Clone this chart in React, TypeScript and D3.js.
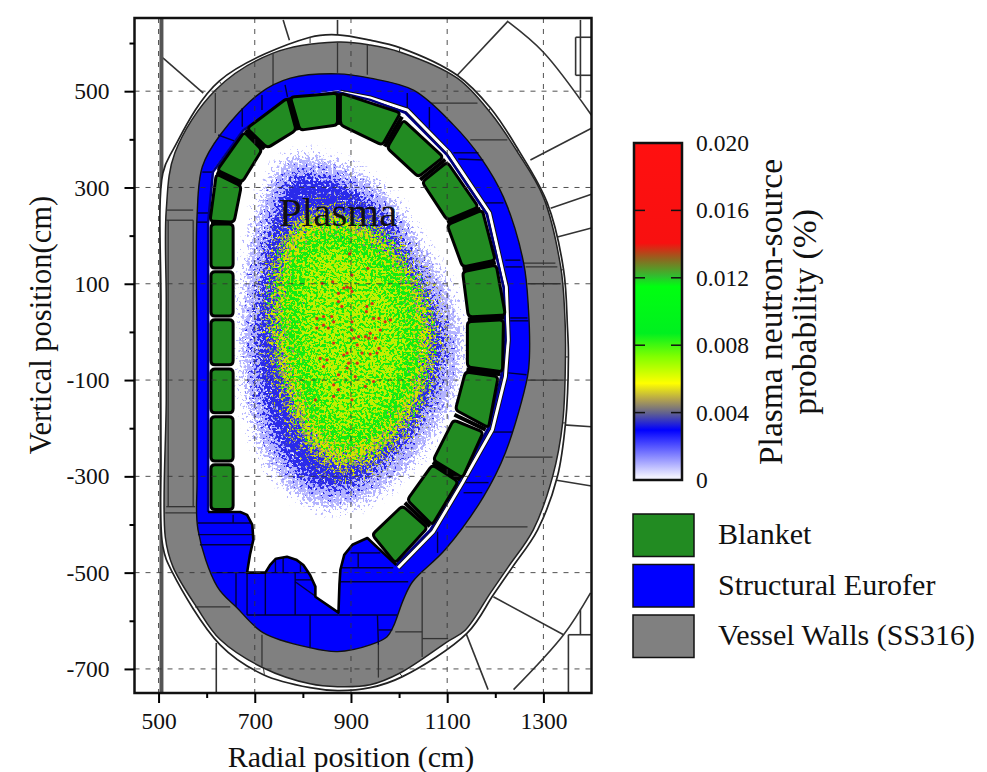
import React, { useEffect, useRef } from 'react';
import * as d3 from 'd3';

type Pt = [number, number];
type Seg = [number, number, number, number];

// everything below is in chart units: [radial cm, vertical cm]
const xMajor = [500, 700, 900, 1100, 1300];
const xMinor = [600, 800, 1000, 1200];
const yMajor = [500, 300, 100, -100, -300, -500, -700];
const yMinor = [600, 400, 200, 0, -200, -400, -600];
const cbTicks = [0, 0.004, 0.008, 0.012, 0.016, 0.02];
const cbLabels = ['0', '0.004', '0.008', '0.012', '0.016', '0.020'];
const cbStopValues = [0.02, 0.01406, 0.01307, 0.01208, 0.01149, 0.00871, 0.00733, 0.00574, 0.00475, 0.00396, 0.00297, 0.0002];
const cbStopColors = ['#ff1010', '#f81010', '#8a6a20', '#2fc02f', '#00ff10', '#00f020', '#80ff00', '#ffff00', '#b0a050', '#606090', '#0000ff', '#f0f0ff'];
const legendLabels = ['Blanket', 'Structural Eurofer', 'Vessel Walls (SS316)'];
const legendColors = ['#228b22', '#0000ff', '#808080'];

const shellOuter: Pt[] = [[509, 330], [530, 378], [626, 521], [815, 612], [872, 617], [940, 606], [1003, 590], [1121, 533], [1190, 465], [1248, 378], [1308, 268], [1342, 129], [1350, 10], [1352, -52], [1346, -189], [1329, -301], [1288, -411], [1236, -488], [1196, -546], [1142, -625], [1007, -716], [940, -739], [872, -745], [815, -739], [718, -712], [628, -650], [528, -498], [509, -446], [505, -250], [505, 50]];
const vesselOuter: Pt[] = [[516, 253], [534, 372], [618, 502], [738, 579], [872, 602], [940, 596], [1003, 581], [1121, 527], [1190, 455], [1246, 374], [1300, 280], [1336, 135], [1344, 46], [1346, -37], [1340, -189], [1319, -301], [1279, -411], [1227, -488], [1190, -542], [1138, -619], [1100, -644], [1003, -708], [940, -733], [872, -737], [815, -731], [718, -698], [628, -639], [580, -573], [530, -488], [514, -426], [516, -141], [516, 66]];
const blueOuter: Pt[] = [[580, 239], [591, 343], [628, 409], [711, 496], [774, 527], [872, 536], [940, 527], [1030, 502], [1113, 430], [1169, 363], [1217, 280], [1259, 143], [1269, 46], [1271, -52], [1267, -93], [1221, -251], [1175, -343], [1096, -452], [1028, -519], [1009, -556], [988, -612], [975, -633], [940, -650], [872, -664], [815, -656], [718, -625], [663, -573], [622, -529], [582, -411], [580, -307], [580, -37]];
const cavity: Pt[] = [[872, 502], [768, 486], [676, 421], [613, 336], [603, 226], [603, -374], [670, -374], [684, -380], [695, -401], [697, -432], [690, -463], [684, -500], [722, -500], [732, -484], [744, -471], [767, -467], [786, -473], [801, -484], [815, -505], [826, -529], [826, -550], [874, -583], [876, -525], [878, -494], [886, -463], [903, -442], [934, -428], [994, -484], [1065, -411], [1125, -309], [1186, -199], [1212, -93], [1221, -17], [1217, 93], [1182, 245], [1100, 367], [1013, 455], [940, 482]];
const wallEdge: Pt[] = [[994, -484], [1065, -411], [1125, -309], [1186, -199], [1212, -93], [1221, -17], [1217, 93], [1182, 245], [1100, 367], [1013, 455], [940, 482], [872, 498], [768, 484], [676, 419], [613, 332], [603, 226], [603, -374]];
const divertorEdge: Pt[] = [[603, -374], [670, -374], [684, -380], [695, -401], [697, -432], [690, -463], [684, -500], [722, -500], [732, -484], [744, -471], [767, -467], [786, -473], [801, -484], [815, -505], [826, -529], [826, -550], [874, -583], [876, -525], [878, -494], [886, -463], [903, -442], [934, -428], [994, -484]];
const stripLine: Pt[] = [[998, -490], [1071, -415], [1132, -313], [1194, -203], [1221, -93], [1227, -17], [1223, 93], [1188, 247], [1104, 372], [1017, 461], [940, 486], [878, 498]];

const blanketModules: Pt[][] = [
  [[609, 224], [655, 224], [655, 133], [609, 133]],
  [[609, 125], [655, 125], [655, 33], [609, 33]],
  [[609, 25], [655, 25], [655, -68], [609, -68]],
  [[609, -77], [655, -77], [655, -168], [609, -168]],
  [[609, -176], [655, -176], [655, -268], [609, -268]],
  [[609, -276], [655, -276], [655, -369], [609, -369]],
  [[620, 328], [672, 303], [657, 228], [607, 230]],
  [[678, 415], [715, 378], [674, 311], [622, 336]],
  [[768, 486], [786, 419], [726, 382], [684, 423]],
  [[774, 488], [872, 496], [872, 430], [794, 419]],
  [[878, 496], [1003, 455], [965, 388], [878, 430]],
  [[1009, 440], [1092, 363], [1040, 322], [975, 382]],
  [[1100, 353], [1165, 259], [1100, 232], [1048, 311]],
  [[1173, 253], [1200, 149], [1132, 135], [1100, 222]],
  [[1202, 139], [1221, 35], [1144, 31], [1132, 125]],
  [[1217, 25], [1215, -83], [1142, -73], [1142, 21]],
  [[1206, -93], [1186, -199], [1117, -162], [1138, -83]],
  [[1175, -208], [1132, -303], [1071, -266], [1113, -183]],
  [[1123, -311], [1069, -401], [1017, -349], [1069, -276]],
  [[1059, -407], [992, -480], [944, -421], [1007, -361]],
];
const moduleJoints: Seg[] = [
  [609, 226, 650, 226], [621, 332, 673, 307], [681, 419, 720, 380], [771, 487, 790, 419],
  [875, 496, 875, 430], [1006, 447, 970, 385], [1096, 358, 1044, 316], [1169, 256, 1100, 227],
  [1201, 144, 1132, 130], [1219, 30, 1143, 26], [1210, -88, 1140, -78], [1180, -203, 1115, -172],
  [1127, -307, 1070, -271], [1064, -404, 1012, -355],
];

const vesselDividers: Seg[] = [
  [738, 579, 738, 513], [872, 602, 872, 538], [934, 596, 934, 534], [618, 496, 618, 413],
  [516, 253, 572, 253], [516, 232, 572, 232], [520, 232, 520, -363], [572, 232, 572, -363],
  [516, -363, 576, -363], [514, -376, 580, -376], [1065, 475, 1163, 475], [1148, 399, 1225, 399],
  [1259, 143, 1325, 143], [1263, 135, 1329, 135], [1267, 100, 1336, 100], [1267, -100, 1342, -100],
  [1221, -260, 1319, -260], [1138, -405, 1267, -405], [1048, -509, 1048, -675], [992, -623, 1048, -623],
  [1048, -637, 1102, -637], [957, -650, 957, -718], [576, -571, 649, -571], [715, -629, 715, -695],
];
const shellTicks: Seg[] = [
  [815, 612, 815, 600], [626, 521, 634, 510], [1002, 590, 1000, 580], [1190, 465, 1184, 455],
  [1248, 378, 1242, 372], [1308, 268, 1300, 264], [1342, 129, 1336, 129], [1352, -52, 1344, -52],
  [1346, -189, 1340, -189], [1236, -488, 1242, -490], [1007, -716, 1000, -708], [720, -712, 718, -698],
];
const structureLines: Seg[] = [
  [759, 648, 772, 606], [872, 648, 872, 617], [509, 569, 593, 496], [1227, 646, 1121, 533],
  [1377, 648, 1377, 486], [1367, 612, 1400, 612], [1367, 612, 1367, 533], [1367, 533, 1400, 533],
  [1273, 357, 1400, 423], [1315, 257, 1400, 286], [1329, 197, 1400, 216], [1342, -193, 1400, -197],
  [1321, -307, 1400, -320], [1196, -550, 1342, -629], [1138, -623, 1185, -743], [1377, -577, 1377, -629],
  [1352, -629, 1400, -629], [1352, -629, 1352, -750], [620, -646, 620, -750],
];
const arcTop: Pt[] = [[1227, 644], [1300, 581], [1400, 450]];
const arcBottom: Pt[] = [[1398, -542], [1342, -629], [1238, -743]];
const blueDividers: Seg[] = [
  [715, 492, 715, 461], [674, 465, 674, 426], [763, 513, 768, 488], [624, 409, 670, 392],
  [591, 332, 611, 332], [580, 247, 603, 247], [580, 228, 603, 228], [1017, 496, 1017, 461],
  [1063, 467, 1063, 423], [1113, 372, 1165, 372], [1123, 359, 1175, 357], [1180, 268, 1217, 268],
  [1221, 149, 1252, 149], [1221, 135, 1256, 135], [1231, 29, 1267, 29], [1231, 23, 1269, 23],
  [1227, -85, 1265, -89], [1194, -208, 1236, -208], [1138, -313, 1186, -313], [1134, -334, 1173, -334],
  [1080, -415, 1080, -459],
  [582, -397, 690, -397], [582, -421, 695, -421], [586, -442, 693, -442], [655, -380, 655, -397],
  [611, -500, 810, -500], [661, -500, 661, -571], [684, -500, 684, -588], [722, -500, 722, -588],
  [784, -500, 784, -588], [684, -588, 874, -588], [784, -519, 874, -583], [784, -515, 826, -515],
  [743, -473, 743, -500], [759, -469, 759, -500], [795, -480, 795, -500], [815, -588, 815, -656],
  [955, -588, 957, -650], [957, -619, 986, -619], [874, -490, 988, -490], [878, -519, 1019, -519],
  [874, -588, 996, -588], [915, -459, 915, -490], [899, -459, 961, -459],
];

// plasma density read as iso-contours, the grain itself comes from the svg filters
const plasmaFaint: Pt[] = [[794, 365], [857, 353], [930, 320], [992, 264], [1044, 181], [1096, 98], [1127, -6], [1117, -110], [1072, -207], [1007, -292], [930, -348], [867, -364], [795, -344], [729, -270], [690, -165], [674, -37], [678, 66], [690, 170], [718, 278], [750, 340]];
const plasmaBlue: Pt[] = [[799, 330], [857, 318], [919, 289], [978, 235], [1023, 158], [1065, 77], [1092, -6], [1082, -100], [1044, -187], [986, -262], [919, -314], [867, -330], [805, -309], [750, -241], [718, -152], [703, -37], [707, 66], [720, 170], [745, 264], [768, 316]];
const plasmaYellow: Pt[] = [[815, 245], [888, 240], [965, 195], [1028, 118], [1068, 4], [1055, -95], [1013, -193], [951, -255], [888, -284], [830, -255], [782, -170], [752, -72], [740, 25], [749, 135], [770, 205]];
const plasmaGreen: Pt[] = [[847, 210], [919, 192], [985, 140], [1028, 46], [1038, -37], [1008, -140], [958, -205], [888, -238], [832, -195], [800, -118], [772, -17], [768, 85], [785, 160]];
const plasmaHot: Pt[] = [[892, 93], [885, 91], [899, 91], [862, 104], [902, 118], [935, 132], [897, 162], [874, 80], [874, 63], [881, 53], [902, 21], [933, 53], [944, 59], [932, 42], [947, 28], [958, 28], [971, 21], [982, 25], [829, 28], [843, 32], [860, 32], [864, 21], [843, 14], [829, 8], [853, 8], [902, 4], [940, -3], [930, -10], [916, -10], [906, -13], [913, -27], [864, -23], [892, -44], [885, -48], [937, -13], [951, -13], [961, 4], [923, -44], [940, -46], [954, -44], [895, -65], [892, -75], [913, -65], [850, -58], [836, -55], [843, -72], [909, -93], [874, -89], [947, -103], [864, -110], [930, -113], [874, -120], [902, -141], [826, -141], [864, -134], [958, -34], [902, 84], [840, 101]];

const W = 987;
const H = 772;
const frame = { left: 134.5, right: 591.5, top: 18, bottom: 693 };
const serif = '"Liberation Serif", serif';

const x = d3.scaleLinear().domain([450, 1400]).range([frame.left, frame.right]);
const y = d3.scaleLinear().domain([652, -750]).range([frame.top, frame.bottom]);
const cb = d3.scaleLinear().domain([0, 0.02]).range([480, 143]);

const smooth = d3.line<Pt>().x(d => x(d[0])).y(d => y(d[1])).curve(d3.curveCatmullRomClosed.alpha(0.5));
const smoothOpen = d3.line<Pt>().x(d => x(d[0])).y(d => y(d[1])).curve(d3.curveCatmullRom.alpha(0.5));
const straight = d3.line<Pt>().x(d => x(d[0])).y(d => y(d[1])).curve(d3.curveLinear);

// polygon with softened corners, the blanket modules are not sharp
const roundedPath = (pts: Pt[], r: number) => {
  const p = pts.map(d => [x(d[0]), y(d[1])]);
  const n = p.length;
  const out: string[] = [];
  p.forEach((c, i) => {
    const a = p[(i + n - 1) % n];
    const b = p[(i + 1) % n];
    const la = Math.hypot(a[0] - c[0], a[1] - c[1]);
    const lb = Math.hypot(b[0] - c[0], b[1] - c[1]);
    const s = [c[0] + ((a[0] - c[0]) * r) / la, c[1] + ((a[1] - c[1]) * r) / la];
    const e = [c[0] + ((b[0] - c[0]) * r) / lb, c[1] + ((b[1] - c[1]) * r) / lb];
    out.push(`${i === 0 ? 'M' : 'L'}${s[0]},${s[1]}Q${c[0]},${c[1]} ${e[0]},${e[1]}`);
  });
  return out.join('') + 'Z';
};

const Segs = ({ data, stroke, width }: { data: Seg[]; stroke: string; width: number }) => (
  <g stroke={stroke} strokeWidth={width}>
    {data.map((s, i) => (
      <line key={i} x1={x(s[0])} y1={y(s[1])} x2={x(s[2])} y2={y(s[3])} />
    ))}
  </g>
);

// soft shape + noise, thresholded: density of grains falls off towards the edge
const Stipple = ({ id, color, sd, seed, bias = 0, freq = 0.38 }: { id: string; color: string; sd: number; seed: number; bias?: number; freq?: number }) => (
  <filter id={id} filterUnits="userSpaceOnUse" x={0} y={0} width={W} height={H} colorInterpolationFilters="sRGB">
    <feGaussianBlur in="SourceAlpha" stdDeviation={sd} result="shape" />
    <feComponentTransfer in="shape" result="limit">
      <feFuncA type="linear" slope={40} intercept={-1.2} />
    </feComponentTransfer>
    <feTurbulence type="fractalNoise" baseFrequency={freq} numOctaves={2} seed={seed} result="turb" />
    <feColorMatrix in="turb" type="matrix" values="0 0 0 0 0 0 0 0 0 0 0 0 0 0 0 2.2 0 0 0 -0.6" result="noise" />
    <feComposite in="shape" in2="noise" operator="arithmetic" k1={0} k2={8} k3={8} k4={-8 + bias * 8} result="raw" />
    <feComposite in="raw" in2="limit" operator="in" result="mask" />
    <feFlood floodColor={color} result="ink" />
    <feComposite in="ink" in2="mask" operator="in" result="dots" />
    <feGaussianBlur in="dots" stdDeviation={0.5} />
  </filter>
);

const App = () => {
  const xAxisRef = useRef<SVGGElement>(null);
  const yAxisRef = useRef<SVGGElement>(null);
  const xMinorRef = useRef<SVGGElement>(null);
  const yMinorRef = useRef<SVGGElement>(null);
  const cbAxisRef = useRef<SVGGElement>(null);

  useEffect(() => {
    const styleAxis = (g: any, w: number) => {
      g.select('.domain').remove();
      g.selectAll('line').attr('stroke', '#000').attr('stroke-width', w);
      g.selectAll('text').attr('font-family', serif).attr('font-size', 23.5).attr('fill', '#111');
    };
    d3.select(xAxisRef.current!)
      .call(d3.axisBottom(x).tickValues(xMajor).tickSize(10).tickPadding(9).tickFormat(d => String(d)) as any)
      .call(styleAxis as any, 2);
    d3.select(yAxisRef.current!)
      .call(d3.axisLeft(y).tickValues(yMajor).tickSize(10).tickPadding(15).tickFormat(d => String(d)) as any)
      .call(styleAxis as any, 2);
    d3.select(xMinorRef.current!)
      .call(d3.axisBottom(x).tickValues(xMinor).tickSize(5).tickFormat(() => '') as any)
      .call(styleAxis as any, 2);
    d3.select(yMinorRef.current!)
      .call(d3.axisLeft(y).tickValues(yMinor).tickSize(5).tickFormat(() => '') as any)
      .call(styleAxis as any, 2);
    d3.select(cbAxisRef.current!)
      .call(d3.axisRight(cb).tickValues(cbTicks).tickSize(0).tickPadding(14).tickFormat((_, i) => cbLabels[i]) as any)
      .call(styleAxis as any, 0);
  }, []);

  return (
    <svg width={W} height={H} style={{ position: 'absolute', left: 0, top: 0, background: '#fff' }}>
      <defs>
        <clipPath id="plot">
          <rect x={frame.left} y={frame.top} width={frame.right - frame.left} height={frame.bottom - frame.top} />
        </clipPath>
        <filter id="soft" filterUnits="userSpaceOnUse" x={0} y={0} width={W} height={H} colorInterpolationFilters="sRGB">
          <feGaussianBlur stdDeviation={0.45} />
        </filter>
        <Stipple id="st-faint" color="#b4b4ff" sd={8} seed={3} />
        <Stipple id="st-blue" color="#2a2aea" sd={10} seed={7} />
        <Stipple id="st-mid" color="#8f8f70" sd={14} seed={11} bias={0.02} />
        <Stipple id="st-yellow" color="#d4e000" sd={14} seed={19} bias={-0.02} />
        <Stipple id="st-green" color="#12ec12" sd={13} seed={23} bias={0.14} />
        <Stipple id="st-fleck" color="#c4ee00" sd={13} seed={31} bias={-0.34} />
        <linearGradient id="cbar" x1="0" y1="0" x2="0" y2="1">
          {cbStopValues.map((v, i) => (
            <stop key={i} offset={1 - v / 0.02} stopColor={cbStopColors[i]} />
          ))}
        </linearGradient>
      </defs>

      <g clipPath="url(#plot)">
        <g filter="url(#soft)" fill="none">
          <Segs data={structureLines} stroke="#333" width={1.6} />
          <path d={smoothOpen(arcTop)!} stroke="#333" strokeWidth={1.6} />
          <path d={smoothOpen(arcBottom)!} stroke="#333" strokeWidth={1.6} />
          <line x1={x(506)} x2={x(506)} y1={frame.top} y2={frame.bottom} stroke="#555" strokeWidth={4} />

          <path d={smooth(shellOuter)!} fill="#fff" stroke="#222" strokeWidth={1.7} />
          <Segs data={shellTicks} stroke="#333" width={1} />
          <path d={smooth(vesselOuter)!} fill="#808080" stroke="#222" strokeWidth={1.5} />
          <Segs data={vesselDividers} stroke="#333" width={1.3} />
          <path d={smooth(blueOuter)!} fill="#0000ff" stroke="#111" strokeWidth={1.4} />
          <Segs data={blueDividers} stroke="#00003c" width={1.4} />
          <path d={straight(stripLine)!} stroke="#111" strokeWidth={5} />
          <path d={straight(stripLine)!} stroke="#fff" strokeWidth={3} />
          <path d={straight(cavity)! + 'Z'} fill="#fff" />
          <path d={straight(wallEdge)!} stroke="#000080" strokeWidth={2.5} />
          <path d={straight(divertorEdge)!} stroke="#000" strokeWidth={2.6} strokeLinejoin="round" />
        </g>

        <g>
          <path d={smooth(plasmaFaint)!} fill="#000" filter="url(#st-faint)" />
          <path d={smooth(plasmaBlue)!} fill="#000" filter="url(#st-blue)" />
          <path d={smooth(plasmaYellow)!} fill="#000" filter="url(#st-mid)" />
          <path d={smooth(plasmaYellow)!} fill="#000" filter="url(#st-yellow)" />
          <path d={smooth(plasmaGreen)!} fill="#000" filter="url(#st-green)" />
          <path d={smooth(plasmaGreen)!} fill="#000" filter="url(#st-fleck)" />
          <g filter="url(#soft)" fill="#d83018">
            {plasmaHot.map((d, i) => (
              <circle key={i} cx={x(d[0])} cy={y(d[1])} r={1.6} />
            ))}
          </g>
        </g>

        <g filter="url(#soft)" fill="none">
          {blanketModules.map((m, i) => (
            <path key={i} d={roundedPath(m, 4)} fill="#228b22" stroke="#000" strokeWidth={3} />
          ))}
          <Segs data={moduleJoints} stroke="#000" width={4} />
        </g>

        <g stroke="#333" strokeWidth={1} strokeDasharray="5 6" opacity={0.85}>
          {xMajor.map(v => (
            <line key={v} x1={x(v)} x2={x(v)} y1={frame.top} y2={frame.bottom} />
          ))}
          {yMajor.map(v => (
            <line key={v} x1={frame.left} x2={frame.right} y1={y(v)} y2={y(v)} />
          ))}
        </g>
      </g>

      <text x={279} y={226} fontFamily={serif} fontSize={41} fill="#111">Plasma</text>

      <rect x={frame.left} y={frame.top} width={frame.right - frame.left} height={frame.bottom - frame.top} fill="none" stroke="#111" strokeWidth={2.5} />
      <g ref={xAxisRef} transform={`translate(0,${frame.bottom})`} />
      <g ref={xMinorRef} transform={`translate(0,${frame.bottom})`} />
      <g ref={yAxisRef} transform={`translate(${frame.left},0)`} />
      <g ref={yMinorRef} transform={`translate(${frame.left},0)`} />

      <text x={351} y={767} textAnchor="middle" fontFamily={serif} fontSize={30} fill="#111">Radial position (cm)</text>
      <text transform="translate(51,325) rotate(-90)" textAnchor="middle" fontFamily={serif} fontSize={30.5} fill="#111">Vertical position(cm)</text>

      <rect x={634} y={cb(0.02)} width={48} height={cb(0) - cb(0.02)} fill="url(#cbar)" stroke="#111" strokeWidth={2.5} />
      {cbTicks.slice(1, -1).map(v => (
        <g key={v} stroke="#111" strokeWidth={1.5}>
          <line x1={634} x2={645} y1={cb(v)} y2={cb(v)} />
          <line x1={671} x2={682} y1={cb(v)} y2={cb(v)} />
        </g>
      ))}
      <g ref={cbAxisRef} transform="translate(682,0)" />
      <text transform="translate(782,312) rotate(-90)" textAnchor="middle" fontFamily={serif} fontSize={33.5} fill="#111">Plasma neutron-source</text>
      <text transform="translate(816,312) rotate(-90)" textAnchor="middle" fontFamily={serif} fontSize={33.5} fill="#111">probability (%)</text>

      {legendLabels.map((label, i) => (
        <g key={label}>
          <rect x={633} y={514 + i * 50.5} width={61} height={42.5} fill={legendColors[i]} stroke="#111" strokeWidth={1.5} />
          <text x={718} y={544 + i * 50.5} fontFamily={serif} fontSize={30} fill="#111">{label}</text>
        </g>
      ))}
    </svg>
  );
};

export default App;
